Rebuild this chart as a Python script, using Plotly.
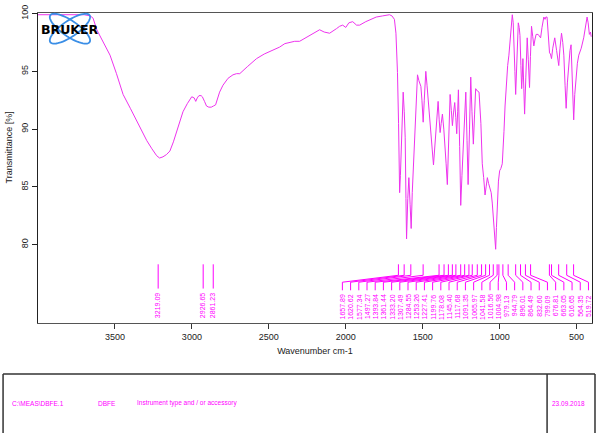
import numpy as np
import plotly.graph_objects as go

# ---- data ----
wavenumber = [4000, 3900, 3800, 3700, 3660, 3642, 3618, 3580, 3532, 3490, 3447, 3400, 3358, 3320, 3293,
              3260, 3229, 3210, 3188, 3165, 3143, 3120, 3098, 3075, 3058, 3030, 3001, 2985, 2975, 2965,
              2954, 2940, 2932, 2918, 2905, 2890, 2874, 2860, 2846, 2820, 2798, 2765, 2733, 2710, 2689,
              2640, 2600, 2580, 2530, 2474, 2430, 2396, 2360, 2332, 2300, 2260, 2220, 2190, 2170, 2140,
              2105, 2060, 2040, 2020, 2000, 1980, 1955, 1930, 1910, 1870, 1840, 1802, 1760, 1716, 1700,
              1684, 1674, 1664, 1657, 1653, 1650, 1645, 1640, 1633, 1627, 1620, 1614, 1609, 1605, 1597,
              1590, 1582, 1575, 1568, 1556, 1545, 1534, 1525, 1512, 1505, 1497, 1490, 1480, 1472, 1463,
              1455, 1447, 1438, 1430, 1422, 1415, 1407, 1400, 1393, 1387, 1380, 1372, 1363, 1355, 1348,
              1340, 1331, 1322, 1314, 1307, 1300, 1292, 1285, 1279, 1273, 1268, 1260, 1253, 1245, 1236,
              1228, 1220, 1212, 1205, 1196, 1188, 1180, 1171, 1163, 1156, 1145, 1134, 1122, 1113, 1104,
              1095, 1088, 1080, 1072, 1063, 1055, 1048, 1042, 1037, 1032, 1026, 1021, 1016, 1008, 1000,
              992, 983, 978, 972, 965, 957, 948, 940, 930, 918, 912, 907, 901, 896, 890,
              884, 879, 873, 868, 862, 857, 853, 849, 843, 838, 830, 821, 814, 806, 800,
              793, 785, 778, 770, 763, 750, 740, 734, 725, 713, 705, 700, 692, 684, 676,
              670, 663, 655, 648, 642, 630, 622, 616, 608, 598, 590, 583, 575, 568, 560,
              551, 543, 536, 528, 519, 512, 504, 495, 486, 470, 454, 440, 432, 425, 417, 410, 405]
transmittance = [99.9, 99.9, 99.9, 99.9, 99.8, 99.6, 98.6, 97.6, 96.4, 94.8, 93.0, 91.8, 90.7, 89.7, 89.0,
                 88.3, 87.7, 87.5, 87.6, 87.8, 88.1, 88.9, 89.8, 90.7, 91.5, 92.2, 92.8, 92.7, 92.4, 92.7,
                 92.9, 92.9, 92.8, 92.4, 92.0, 91.9, 91.9, 92.0, 92.1, 93.2, 93.8, 94.4, 94.7, 94.8, 94.8,
                 95.4, 95.9, 96.1, 96.5, 96.8, 97.1, 97.4, 97.5, 97.6, 97.6, 97.9, 98.2, 98.4, 98.6, 98.4,
                 98.3, 98.7, 98.9, 99.0, 98.8, 99.2, 99.3, 99.0, 99.0, 99.3, 99.5, 99.7, 99.8, 99.9, 99.8,
                 99.5, 98.3, 94.9, 90.5, 86.5, 84.5, 86.0, 88.5, 91.8, 93.2, 91.5, 89.3, 84.0, 80.5, 84.0,
                 85.8, 83.5, 81.4, 84.5, 88.4, 92.0, 94.7, 94.2, 93.7, 92.5, 90.6, 92.5, 95.0, 93.8, 92.1,
                 90.5, 89.3, 88.2, 86.9, 88.3, 89.9, 91.5, 92.4, 90.8, 89.7, 90.5, 91.3, 90.0, 88.7, 87.0,
                 85.2, 89.0, 93.0, 91.6, 90.3, 91.4, 92.3, 91.0, 89.6, 91.5, 93.4, 88.5, 83.4, 86.0, 88.4,
                 91.0, 93.2, 89.0, 85.2, 90.0, 94.5, 91.5, 88.7, 91.3, 93.5, 93.3, 93.2, 90.5, 87.0, 85.8,
                 84.3, 85.0, 85.8, 85.3, 84.9, 84.5, 83.6, 82.5, 81.7, 80.8, 79.6, 81.5, 83.9, 85.5, 86.4,
                 86.6, 87.0, 88.0, 89.8, 92.0, 94.1, 95.5, 96.4, 97.8, 99.9, 99.2, 97.8, 95.0, 93.0, 96.0,
                 98.5, 99.2, 98.8, 98.1, 95.5, 93.5, 94.5, 96.1, 93.5, 91.3, 94.5, 97.9, 96.0, 93.6, 96.3,
                 98.9, 98.0, 97.2, 97.8, 98.2, 98.2, 98.0, 97.9, 98.8, 99.7, 99.5, 99.7, 99.7, 98.2, 96.6,
                 96.5, 96.1, 97.0, 97.5, 97.9, 96.8, 96.0, 95.5, 97.0, 98.3, 97.5, 96.4, 93.8, 91.8, 94.0,
                 95.6, 96.8, 97.3, 94.5, 90.8, 93.0, 94.7, 95.7, 96.4, 97.0, 97.9, 99.0, 99.7, 99.2, 98.2, 98.4, 98.0]

peaks_high = [3219.09, 2926.65, 2861.23]
peaks_low = [1657.89, 1620.62, 1577.34, 1497.27, 1393.84, 1361.44, 1333.20, 1307.49, 1284.55, 1253.26,
             1227.41, 1199.76, 1178.08, 1145.40, 1117.68, 1091.35, 1065.97, 1041.58, 1016.56, 1004.98,
             979.13, 944.79, 896.01, 864.49, 832.60, 799.09, 676.81, 663.05, 616.65, 564.35, 519.72]

x_ticks = [3500, 3000, 2500, 2000, 1500, 1000, 500]
y_ticks = [80, 85, 90, 95, 100]

footer_texts = ["C:\\MEAS\\DBFE.1", "DBFE", "Instrument type and / or accessory", "23.09.2018"]

# ---- geometry helpers (pixel -> paper) ----
W, H = 598, 433
L, R, T, B = 38, 5, 7, 110
PW, PH = W - L - R, H - T - B
def px(x):
    return (x - L) / PW
def py(y):
    return (H - B - y) / PH

MAG = "#ff00ff"
CURVE = "#ee33ee"
FONT = "Liberation Sans, Arial, sans-serif"

fig = go.Figure()
fig.add_trace(go.Scatter(x=wavenumber, y=transmittance, mode="lines",
                         line=dict(color=CURVE, width=1), hoverinfo="skip", showlegend=False))

shapes = []
annotations = []

# high-wavenumber peak marks (no connectors)
for p in peaks_high:
    shapes.append(dict(type="line", xref="x", yref="y", x0=p, x1=p, y0=78.3, y1=76.2,
                       line=dict(color=MAG, width=1)))
    annotations.append(dict(x=p, y=75.95, xref="x", yref="y", text="%.2f" % p, showarrow=False,
                            textangle=-90, xanchor="center", yanchor="top",
                            font=dict(family=FONT, size=7, color=MAG)))

# low-wavenumber peak marks with connectors to evenly spread labels
lab_x = np.linspace(2022, 423, len(peaks_low))
for p, lx in zip(peaks_low, lab_x):
    shapes.append(dict(type="path", xref="x", yref="y",
                       path=f"M {p},78.3 L {p},77.35 L {lx},76.75 L {lx},76.05",
                       line=dict(color=MAG, width=1)))
    annotations.append(dict(x=lx, y=75.85, xref="x", yref="y", text="%.2f" % p, showarrow=False,
                            textangle=-90, xanchor="center", yanchor="top",
                            font=dict(family=FONT, size=7, color=MAG)))

# Bruker logo
cx, cy = 70, 23
for ang in (35, -35):
    th = np.linspace(0, 2 * np.pi, 60)
    a, b = 24, 8
    r = np.deg2rad(ang)
    xs = cx + a * np.cos(th) * np.cos(r) - b * np.sin(th) * np.sin(r)
    ys = cy + a * np.cos(th) * np.sin(r) + b * np.sin(th) * np.cos(r)
    path = "M " + " L ".join(f"{px(x):.5f},{py(y):.5f}" for x, y in zip(xs, ys)) + " Z"
    shapes.append(dict(type="path", xref="paper", yref="paper", path=path,
                       line=dict(color="#3a8ee6", width=1.8)))
annotations.append(dict(x=px(70), y=py(24), xref="paper", yref="paper", text="<b>BRUKER</b>",
                        showarrow=False, xanchor="center", yanchor="middle",
                        font=dict(family="DejaVu Sans, sans-serif", size=12.5, color="black")))

# y axis title
annotations.append(dict(x=px(9), y=py(144), xref="paper", yref="paper", text="Transmittance [%]",
                        showarrow=False, textangle=-90, xanchor="center", yanchor="middle",
                        font=dict(family=FONT, size=9, color="#222")))

# footer box
box_col = "#333333"
shapes += [
    dict(type="line", xref="paper", yref="paper", x0=px(3), x1=px(596), y0=py(375), y1=py(375),
         line=dict(color=box_col, width=1.5)),
    dict(type="line", xref="paper", yref="paper", x0=px(3), x1=px(3), y0=py(375), y1=py(440),
         line=dict(color=box_col, width=1.5)),
    dict(type="line", xref="paper", yref="paper", x0=px(596), x1=px(596), y0=py(375), y1=py(440),
         line=dict(color=box_col, width=1.5)),
    dict(type="line", xref="paper", yref="paper", x0=px(548), x1=px(548), y0=py(375), y1=py(440),
         line=dict(color=box_col, width=1.5)),
]
for t, x in zip(footer_texts, [10, 96, 135, 551]):
    annotations.append(dict(x=px(x), y=py(405), xref="paper", yref="paper", text=t, showarrow=False,
                            xanchor="left", yanchor="middle",
                            font=dict(family=FONT, size=6.5, color=MAG)))

fig.update_layout(
    width=W, height=H, margin=dict(l=L, r=R, t=T, b=B),
    paper_bgcolor="white", plot_bgcolor="white",
    shapes=shapes, annotations=annotations,
    font=dict(family=FONT, size=9, color="#222"),
    xaxis=dict(range=[4000, 400], tickvals=x_ticks, ticktext=[str(v) for v in x_ticks],
               showgrid=False, zeroline=False, showline=True, mirror=True, linecolor="#555",
               linewidth=1, ticks="outside", ticklen=5, tickcolor="#333",
               tickfont=dict(size=9, color="#222"),
               title=dict(text="Wavenumber cm-1", font=dict(size=9, color="#222"), standoff=6)),
    yaxis=dict(range=[73.22, 100.05], tickvals=y_ticks, ticktext=[str(v) for v in y_ticks],
               showgrid=False, zeroline=False, showline=True, mirror=True, linecolor="#222",
               linewidth=1.3, ticks="outside", ticklen=5, tickcolor="#222", tickangle=-90,
               ticklabeloverflow="allow",
               tickfont=dict(size=9, color="#222")),
)

fig.write_html("out.html")
